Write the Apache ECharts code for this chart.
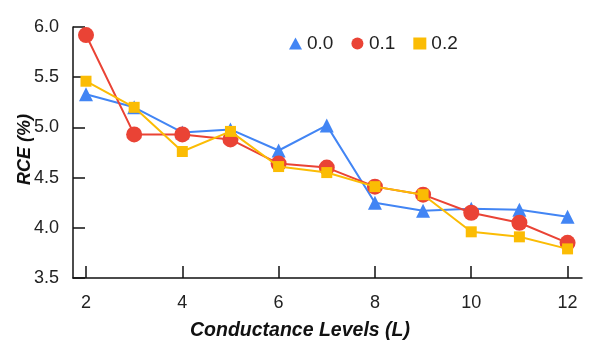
<!DOCTYPE html>
<html>
<head>
<meta charset="utf-8">
<script src="https://cdn.jsdelivr.net/npm/echarts@6/dist/echarts.min.js"></script>
<style>
  html, body { margin: 0; padding: 0; background: #fff; }
  #echarts { width: 600px; height: 355px; }
</style>
</head>
<body>
<div id="echarts"></div>
<script>
// 数据
var levels = [2, 3, 4, 5, 6, 7, 8, 9, 10, 11, 12];
var xTicks = [2, 4, 6, 8, 10, 12];
var rce00 = [5.33, 5.20, 4.95, 4.98, 4.77, 5.02, 4.25, 4.17, 4.19, 4.18, 4.11];
var rce01 = [5.92, 4.93, 4.93, 4.88, 4.64, 4.60, 4.41, 4.33, 4.15, 4.05, 3.85];
var rce02 = [5.46, 5.20, 4.76, 4.96, 4.61, 4.55, 4.41, 4.33, 3.96, 3.91, 3.79];

function pairs(ys) {
  return levels.map(function (x, i) { return [x, ys[i]]; });
}

var chartDom = document.getElementById("echarts");
var myChart = echarts.init(chartDom);
var option;

var FONT = "Liberation Sans, Arial, sans-serif";

option = {
  animation: false,
  textStyle: { fontFamily: FONT },
  grid: {
    left: 73,
    top: 27,
    right: 18,
    bottom: 77,
    containLabel: false,
    outerBoundsMode: "none",
  },
  legend: {
    top: 29,
    left: 284,
    itemGap: 18,
    itemWidth: 13,
    itemHeight: 12,
    textStyle: { fontSize: 19, color: "#222", fontFamily: FONT },
    data: [
      { name: "0.0", icon: "triangle" },
      { name: "0.1", icon: "circle" },
      { name: "0.2", icon: "rect" },
    ],
  },
  xAxis: {
    type: "value",
    min: 1.73,
    max: 12.3,
    name: "Conductance Levels (L)",
    nameLocation: "middle",
    nameGap: 43,
    nameMoveOverlap: false,
    nameTextStyle: {
      fontSize: 19.5,
      fontWeight: "bold",
      fontStyle: "italic",
      color: "#111",
      padding: [0, 55, 0, 0],
    },
    axisLine: { onZero: false, lineStyle: { color: "#111", width: 1.5 } },
    axisTick: { inside: true, length: 12, lineStyle: { color: "#111", width: 1.5 }, customValues: xTicks },
    axisLabel: { fontSize: 18, color: "#222", margin: 16, customValues: xTicks },
    splitLine: { show: false },
  },
  yAxis: {
    type: "value",
    min: 3.5,
    max: 6.0,
    interval: 0.5,
    name: "RCE (%)",
    nameLocation: "middle",
    nameGap: 39,
    nameMoveOverlap: false,
    nameTextStyle: {
      fontSize: 18,
      fontWeight: "bold",
      fontStyle: "italic",
      color: "#111",
      padding: [0, 0, 0, 6],
    },
    axisLine: { show: true, lineStyle: { color: "#111", width: 1.5 } },
    axisTick: { show: true, inside: true, length: 12, lineStyle: { color: "#111", width: 1.5 } },
    axisLabel: {
      fontSize: 18,
      color: "#222",
      margin: 14,
      formatter: function (v) { return v.toFixed(1); },
    },
    splitLine: { show: false },
  },
  series: [
    {
      name: "0.0",
      type: "line",
      data: pairs(rce00),
      symbol: "triangle",
      symbolSize: 14,
      color: "#4285F4",
      lineStyle: { width: 2 },
      z: 2,
    },
    {
      name: "0.1",
      type: "line",
      data: pairs(rce01),
      symbol: "circle",
      symbolSize: 16,
      color: "#EA4335",
      lineStyle: { width: 2 },
      z: 3,
    },
    {
      name: "0.2",
      type: "line",
      data: pairs(rce02),
      symbol: "rect",
      symbolSize: 11,
      color: "#FBBC04",
      lineStyle: { width: 2 },
      z: 4,
    },
  ],
};

option && myChart.setOption(option);
</script>
</body>
</html>
